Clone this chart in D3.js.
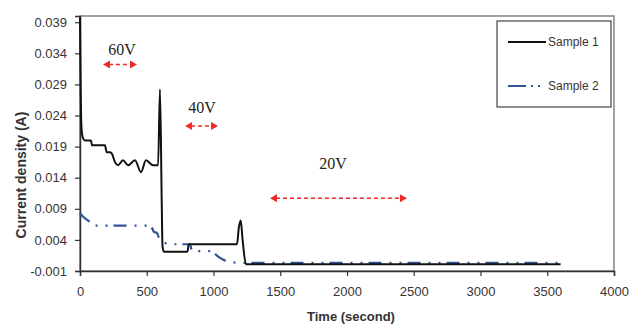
<!DOCTYPE html>
<html>
<head>
<meta charset="utf-8">
<script src="https://cdn.jsdelivr.net/npm/d3@7"></script>
<style>
  body { margin: 0; background: #fff; }
  svg { display: block; font-family: "Liberation Sans", Arial, sans-serif; }
</style>
</head>
<body>
<div id="chart"></div>
<script>
// values
var time1 = [0, 10, 20, 37, 82, 90, 187, 200, 225, 240, 262, 285, 322, 360, 412, 457, 494, 547, 585, 599, 612, 618, 628, 805, 815, 1176, 1190, 1204, 1218, 1243, 3600];
var sample1 = [0.0398, 0.0225, 0.0205, 0.0200, 0.0200, 0.0192, 0.0192, 0.0181, 0.0181, 0.0178, 0.0165, 0.0160, 0.0168, 0.0160, 0.0168, 0.0149, 0.0168, 0.0160, 0.0160, 0.0282, 0.0104, 0.0030, 0.0021, 0.0021, 0.0033, 0.0033, 0.0060, 0.0071, 0.0040, 0.0001, 0.0001];

var time2 = [0, 30, 75, 90, 524, 540, 554, 577, 592, 614, 637, 674, 824, 839, 996, 1019, 1049, 1139, 1236, 3600];
var sample2 = [0.0083, 0.0076, 0.0068, 0.0063, 0.0063, 0.0059, 0.0053, 0.0051, 0.0043, 0.0038, 0.0035, 0.0033, 0.0033, 0.0022, 0.0022, 0.0016, 0.0011, 0.0004, 0.0003, 0.0003];

var seriesNames = ["Sample 1", "Sample 2"];
var xTicks = [0, 500, 1000, 1500, 2000, 2500, 3000, 3500, 4000];
var yTicks = [-0.001, 0.004, 0.009, 0.014, 0.019, 0.024, 0.029, 0.034, 0.039];

// voltage annotations: label, arrow start/end time, arrow level, label time, label baseline level
var voltLabels = ["60V", "40V", "20V"];
var arrowFrom = [172, 787, 1423];
var arrowTo = [427, 1034, 2449];
var arrowLevel = [0.0322, 0.0223, 0.0107];
var labelTime = [315, 914, 1895];
var labelLevel = [0.0338, 0.0244, 0.0154];

var width = 631, height = 324;
var margin = { top: 16, right: 17, bottom: 53, left: 80 };

var svg = d3.select("#chart").append("svg")
  .attr("width", width)
  .attr("height", height);

var x = d3.scaleLinear().domain([0, 4000]).range([margin.left, width - margin.right]);
var y = d3.scaleLinear().domain([-0.001, 0.040]).range([height - margin.bottom, margin.top]);

// plot border
svg.append("rect")
  .attr("x", x(0)).attr("y", y(0.040))
  .attr("width", x(4000) - x(0)).attr("height", y(-0.001) - y(0.040))
  .attr("fill", "none").attr("stroke", "#666").attr("stroke-width", 1.2);

// axes
var yFormat = function (d) { return d3.format(".3f")(d).replace("\u2212", "-"); };
var xAxis = svg.append("g")
  .attr("transform", "translate(0," + y(-0.001) + ")")
  .call(d3.axisBottom(x).tickValues(xTicks).tickSize(5).tickPadding(11).tickFormat(d3.format("d")));
var yAxis = svg.append("g")
  .attr("transform", "translate(" + x(0) + ",0)")
  .call(d3.axisLeft(y).tickValues(yTicks).tickSize(5).tickPadding(8).tickFormat(yFormat));

[xAxis, yAxis].forEach(function (g) {
  g.select(".domain").attr("stroke", "#333").attr("stroke-width", 1.5);
  g.selectAll(".tick line").attr("stroke", "#333").attr("stroke-width", 1.2);
  g.selectAll(".tick text").attr("fill", "#3a3333").style("font-size", "13px")
    .style("font-family", "'Liberation Sans', Arial, sans-serif");
});

// axis titles
svg.append("text")
  .attr("x", 351).attr("y", 321)
  .attr("text-anchor", "middle")
  .style("font-size", "13px").style("font-weight", "bold").attr("fill", "#333")
  .text("Time (second)");
svg.append("text")
  .attr("transform", "translate(26,175) rotate(-90)")
  .attr("text-anchor", "middle")
  .style("font-size", "14px").style("font-weight", "bold").attr("fill", "#333")
  .text("Current density (A)");

// lines
var line = d3.line()
  .x(function (d) { return x(d[0]); })
  .y(function (d) { return y(d[1]); })
  .curve(d3.curveMonotoneX);

svg.append("path")
  .datum(time2.map(function (t, i) { return [t, sample2[i]]; }))
  .attr("d", line)
  .attr("fill", "none").attr("stroke", "#2f5597").attr("stroke-width", 2.2)
  .attr("stroke-dasharray", "13,8,2,8,2,6");

svg.append("path")
  .datum(time1.map(function (t, i) { return [t, sample1[i]]; }))
  .attr("d", line)
  .attr("fill", "none").attr("stroke", "#111").attr("stroke-width", 2);

// voltage annotations
var red = "#ee2b24";
voltLabels.forEach(function (lab, i) {
  var x1 = x(arrowFrom[i]), x2 = x(arrowTo[i]), yy = y(arrowLevel[i]);
  svg.append("line")
    .attr("x1", x1 + 6).attr("x2", x2 - 6).attr("y1", yy).attr("y2", yy)
    .attr("stroke", red).attr("stroke-width", 1.5).attr("stroke-dasharray", "4,3");
  svg.append("path")
    .attr("d", "M" + x1 + "," + yy + "l7,-4l0,8z").attr("fill", red);
  svg.append("path")
    .attr("d", "M" + x2 + "," + yy + "l-7,-4l0,8z").attr("fill", red);
  svg.append("text")
    .attr("x", x(labelTime[i])).attr("y", y(labelLevel[i]))
    .attr("text-anchor", "middle")
    .style("font-family", "'Liberation Serif', 'Times New Roman', serif")
    .style("font-size", "16px").attr("fill", "#222")
    .text(lab);
});

// legend
var legend = svg.append("g");
legend.append("rect")
  .attr("x", 497).attr("y", 21).attr("width", 114).attr("height", 86)
  .attr("fill", "#fff").attr("stroke", "#444").attr("stroke-width", 1.2);
var legStyles = [
  { color: "#111", dash: null },
  { color: "#2f5597", dash: "18,5,2,5,2,20" }
];
seriesNames.forEach(function (name, i) {
  var ly = 42 + i * 44;
  legend.append("line")
    .attr("x1", 508).attr("x2", 546).attr("y1", ly).attr("y2", ly)
    .attr("stroke", legStyles[i].color).attr("stroke-width", 2)
    .attr("stroke-dasharray", legStyles[i].dash);
  legend.append("text")
    .attr("x", 548).attr("y", ly + 4)
    .style("font-size", "12px").attr("fill", "#3a3333")
    .text(name);
});
</script>
</body>
</html>
